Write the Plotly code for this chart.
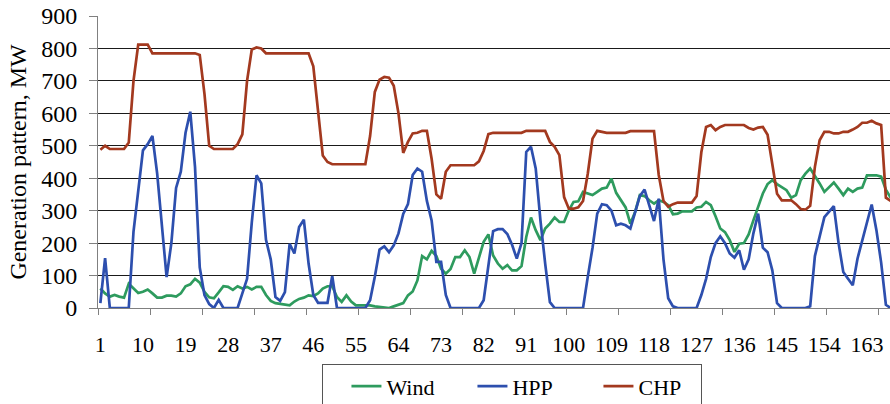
import plotly.graph_objects as go

# Hour of the week (1..168)
hours = list(range(1, 169))

# Hourly generation, MW
wind = [60, 45, 35, 40, 35, 32, 75, 62, 46, 50,
        57, 45, 32, 32, 38, 38, 35, 45, 67, 73,
        90, 78, 50, 33, 30, 48, 67, 65, 56, 67,
        60, 65, 57, 65, 65, 40, 22, 15, 12, 10,
        8, 20, 28, 32, 39, 37, 45, 60, 67, 67,
        34, 19, 39, 20, 8, 8, 8, 8, 5, 3,
        0, 0, 5, 10, 15, 39, 51, 85, 160, 150,
        176, 160, 121, 106, 120, 157, 157, 178, 157, 106,
        152, 204, 227, 162, 137, 121, 132, 116, 116, 129,
        219, 279, 240, 209, 245, 260, 279, 265, 265, 301,
        327, 329, 358, 353, 348, 358, 368, 371, 399, 355,
        334, 310, 260, 296, 348, 345, 332, 322, 332, 327,
        317, 289, 291, 298, 298, 298, 310, 312, 327, 317,
        283, 245, 234, 209, 173, 198, 200, 227, 270, 312,
        353, 382, 394, 382, 373, 363, 340, 348, 394, 414,
        430, 409, 384, 358, 373, 387, 368, 348, 368, 358,
        368, 371, 409, 409, 409, 405, 365, 340]

hpp = [15, 154, 0, 0, 0, 0, 0, 235, 363, 486,
       505, 530, 415, 250, 95, 200, 370, 420, 540, 605,
       435, 125, 40, 12, 0, 25, 0, 0, 0, 0,
       45, 90, 264, 409, 384, 210, 150, 34, 22, 49,
       198, 168, 250, 272, 137, 40, 16, 16, 16, 99,
       0, 0, 0, 0, 0, 0, 0, 24, 96, 180,
       190, 172, 193, 230, 290, 320, 410, 430, 420, 330,
       270, 142, 142, 40, 0, 0, 0, 0, 0, 0,
       0, 24, 126, 237, 243, 243, 228, 195, 152, 200,
       481, 497, 430, 270, 137, 18, 0, 0, 0, 0,
       0, 0, 0, 96, 185, 291, 320, 317, 300, 255,
       260, 255, 245, 295, 345, 365, 320, 268, 337, 150,
       30, 5, 0, 0, 0, 0, 0, 40, 90, 157,
       200, 221, 200, 168, 155, 178, 118, 150, 230, 291,
       186, 172, 116, 15, 0, 0, 0, 0, 0, 0,
       5, 160, 220, 280, 297, 314, 200, 111, 90, 70,
       152, 210, 265, 319, 240, 140, 10, 0]

chp = [488, 500, 490, 490, 490, 490, 510, 700, 812, 812,
       812, 785, 785, 785, 785, 785, 785, 785, 785, 785,
       785, 780, 660, 500, 490, 490, 490, 490, 490, 505,
       535, 700, 797, 803, 800, 785, 785, 785, 785, 785,
       785, 785, 785, 785, 785, 745, 610, 470, 450, 443,
       443, 443, 443, 443, 443, 443, 443, 530, 666, 704,
       712, 710, 685, 600, 478, 512, 538, 540, 546, 546,
       460, 350, 337, 420, 440, 440, 440, 440, 440, 440,
       452, 484, 536, 540, 540, 540, 540, 540, 540, 540,
       546, 546, 546, 546, 546, 512, 497, 471, 342, 306,
       306, 310, 330, 414, 522, 546, 542, 540, 540, 540,
       540, 540, 545, 545, 545, 545, 545, 545, 410, 330,
       312, 320, 325, 325, 325, 325, 345, 480, 558, 564,
       548, 558, 564, 564, 564, 564, 564, 555, 550, 556,
       558, 534, 447, 352, 332, 332, 332, 320, 305, 303,
       315, 435, 517, 543, 543, 538, 538, 543, 543, 550,
       558, 571, 571, 577, 569, 564, 340, 330]

series_names = ["Wind", "HPP", "CHP"]
series_colors = ["#2E9B5E", "#2D4FAE", "#A3391F"]

# Labelled hours and the frame tick marks between hour groups
label_hours = list(range(1, 169, 9))
frame_ticks = [0.5 + 11 * k for k in range(16)]
y_ticks = list(range(0, 901, 100))

FONT = "Liberation Serif"

fig = go.Figure()
for name, values, color in zip(series_names, [wind, hpp, chp], series_colors):
    fig.add_trace(go.Scatter(
        x=hours, y=values, name=name, mode="lines",
        line=dict(color=color, width=2.7),
    ))

fig.update_layout(
    width=890, height=404,
    margin=dict(l=98, r=0, t=16, b=96, autoexpand=False),
    paper_bgcolor="white", plot_bgcolor="white",
    font=dict(family=FONT, size=22, color="black"),
    showlegend=True,
    legend=dict(
        orientation="h",
        x=0.2834, xanchor="left",
        y=-0.193, yanchor="top",
        bordercolor="#555555", borderwidth=1,
        bgcolor="white",
        font=dict(family=FONT, size=22, color="black"),
        indentation=23,
        entrywidth=58, entrywidthmode="pixels",
        traceorder="normal",
    ),
    xaxis=dict(
        range=[0.5, 167.87],
        tickmode="array",
        tickvals=label_hours,
        ticktext=[str(h) for h in label_hours],
        ticks="",
        ticklabelstandoff=17,
        tickfont=dict(family=FONT, size=22, color="black"),
        showline=True, linecolor="#808080", linewidth=1,
        showgrid=False, zeroline=False,
        minor=dict(tickmode="array", tickvals=frame_ticks, ticks="outside",
                   ticklen=6, tickcolor="#808080", tickwidth=1, showgrid=False),
    ),
    yaxis=dict(
        range=[0, 900],
        tickmode="array",
        tickvals=y_ticks,
        ticks="outside", ticklen=8, tickcolor="#808080",
        ticklabelstandoff=7,
        tickfont=dict(family=FONT, size=24, color="black"),
        showline=True, linecolor="#808080", linewidth=1,
        showgrid=True, gridcolor="#1a1a1a", gridwidth=1,
        zeroline=False,
        title=dict(text="Generation pattern, MW", standoff=7,
                   font=dict(family=FONT, size=24, color="black")),
    ),
)

fig.write_html("out.html")
